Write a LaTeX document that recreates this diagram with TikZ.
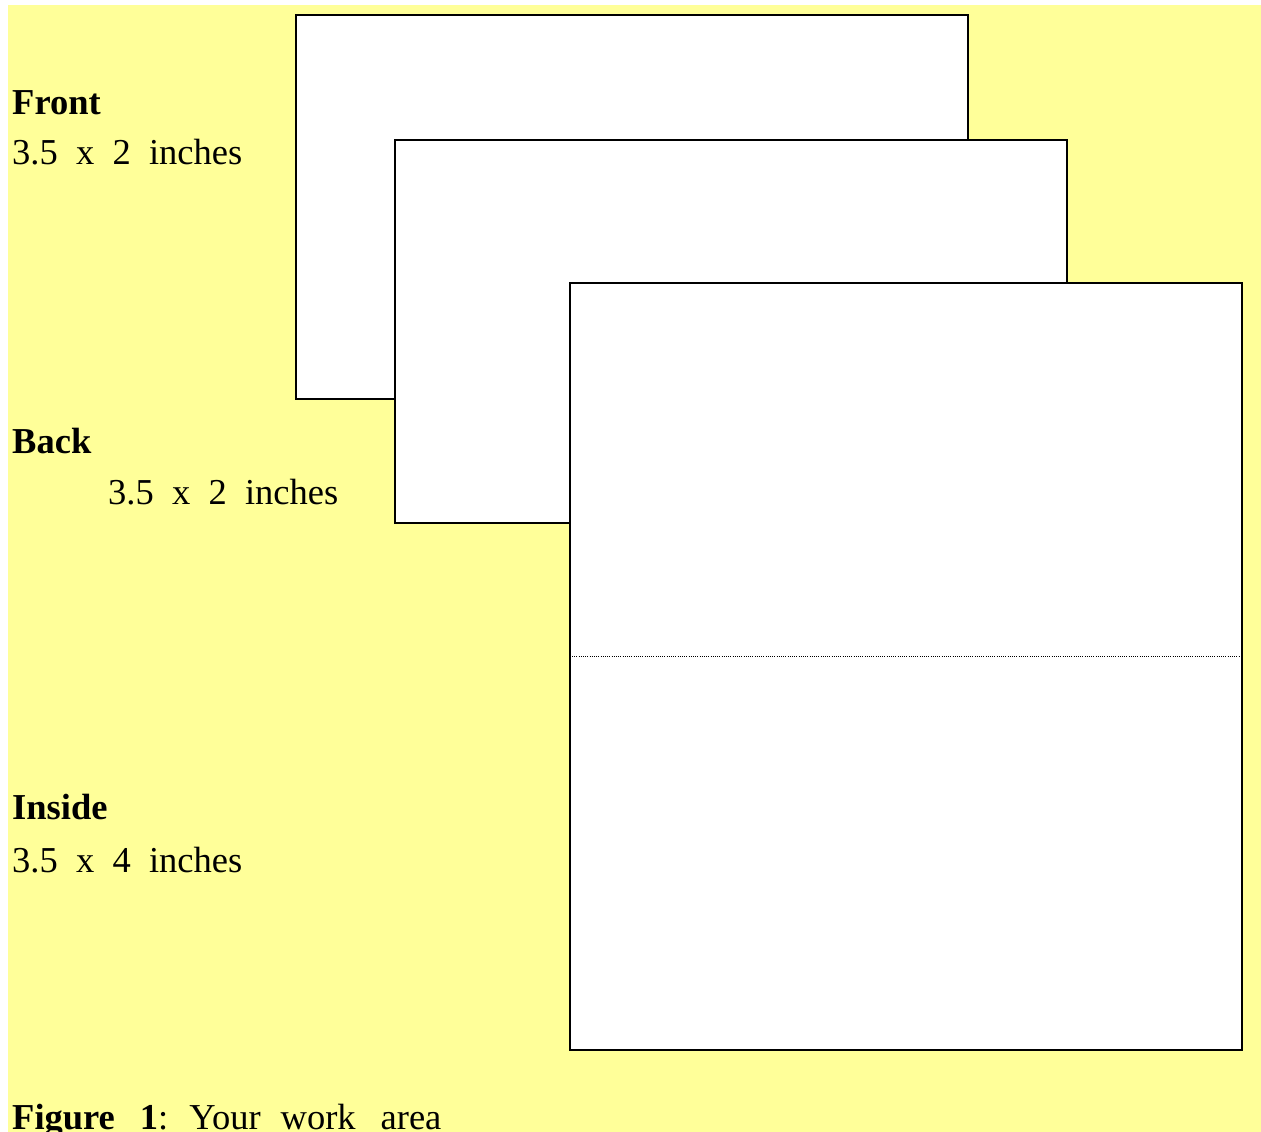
\documentclass[tikz,border=0pt]{standalone}
\usepackage{fontspec}
\setmainfont{Liberation Serif}
\definecolor{bgyellow}{HTML}{FFFF99}
\begin{document}
\begin{tikzpicture}[x=1pt,y=-1pt,
  card/.style={draw=black,fill=white,line width=1.6pt},
  lbl/.style={anchor=base west,inner sep=0pt,font=\fontsize{36.5}{40}\selectfont}]
\useasboundingbox (0,0) rectangle (1261,1132);
\fill[bgyellow] (8,5) rectangle (1261,1132);
% cards
\draw[card] (296,15) rectangle (968,399);
\draw[card] (395,140) rectangle (1067,523);
\draw[card] (570,283) rectangle (1242,1050);
\coordinate (foldL) at (572,656);
\coordinate (foldR) at (1240,656);
\draw[line width=1pt,dash pattern=on 1pt off 1.2pt] (foldL) -- (foldR);
% labels
\node[lbl] (tfront) at (12,114) {\textbf{Front}};
\node[lbl] (sfront) at (12,164) {3.5\ \ x\ \ 2\ \ inches};
\node[lbl] (tback) at (12,453) {\textbf{Back}};
\node[lbl] (sback) at (108,504) {3.5\ \ x\ \ 2\ \ inches};
\node[lbl] (tinside) at (12,819) {\textbf{Inside}};
\node[lbl] (sinside) at (12,872) {3.5\ \ x\ \ 4\ \ inches};
\node[lbl] (caption) at (12,1129) {\textbf{Figure\hspace{25pt}1}:\hspace{21pt}Your\hspace{20pt}work\hspace{25pt}area};
\end{tikzpicture}
\end{document}
